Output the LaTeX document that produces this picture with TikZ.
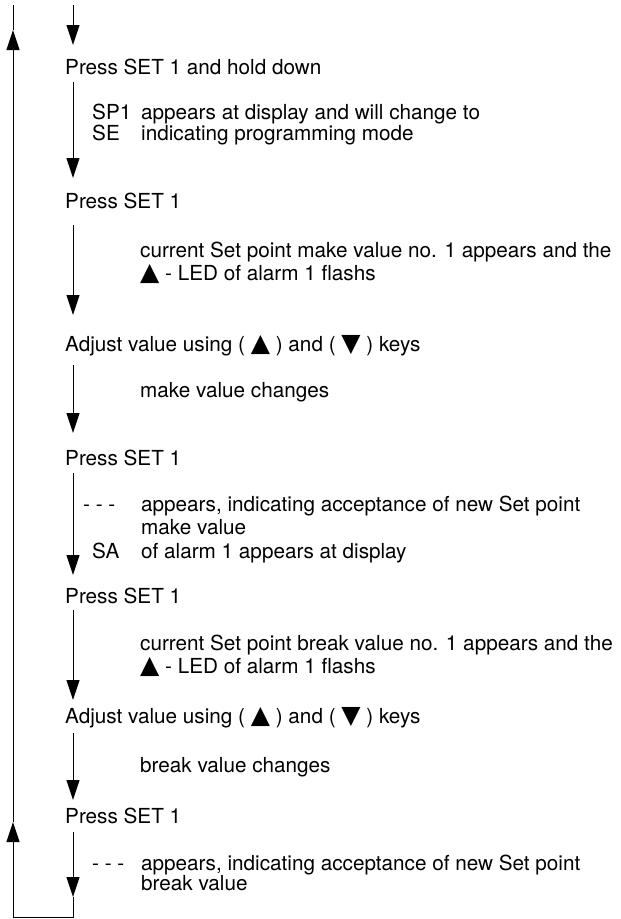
\documentclass[tikz,border=0pt]{standalone}
\usepackage{fontspec}
\setmainfont{TeX Gyre Heros}
\newfontfamily\symfont{DejaVu Sans}
\usetikzlibrary{arrows.meta}
\newcommand{\up}{{\symfont\fontsize{25}{24}\selectfont ▲}}
\newcommand{\dn}{{\symfont\fontsize{25}{24}\selectfont ▼}}
\begin{document}
\begin{tikzpicture}[x=1pt,y=-1pt,
  txt/.style={anchor=base west,inner sep=0pt,font=\fontsize{20.7}{24}\selectfont},
  flow/.style={line width=1pt,-{Triangle[length=20pt,width=13pt]}},
  plain/.style={line width=1pt}]
\useasboundingbox (0,0) rectangle (621,919);
% coordinates of the connectors
\coordinate (a0) at (73,5);   \coordinate (a1) at (73,45);
\coordinate (a2) at (73,82);  \coordinate (a3) at (73,178);
\coordinate (a4) at (73,225); \coordinate (a5) at (73,315);
\coordinate (a6) at (73,365); \coordinate (a7) at (73,433);
\coordinate (a8) at (73,473); \coordinate (a9) at (73,575);
\coordinate (a10) at (73,610); \coordinate (a11) at (73,700);
\coordinate (a12) at (73,733); \coordinate (a13) at (73,800);
\coordinate (a14) at (73,832); \coordinate (a15) at (73,897);
\coordinate (b0) at (73,917); \coordinate (b1) at (13,917);
\coordinate (u1) at (13,822); \coordinate (u2) at (13,30);
\coordinate (top) at (13,5);
% texts
\node[txt] (s1) at (65,74) {Press SET 1 and hold down};
\node[txt] (c1a) at (92,119) {SP1};
\node[txt] (d1a) at (141,119) {appears at display and will change to};
\node[txt] (c1b) at (92,140) {SE};
\node[txt] (d1b) at (141,140) {indicating programming mode};
\node[txt] (s2) at (65,208) {Press SET 1};
\node[txt] (d2a) at (140,257) {current Set point make value no. 1 appears and the};
\node[txt] (d2b) at (140,280) {\up\ - LED of alarm 1 flashs};
\node[txt] (s3) at (65,351) {Adjust value using ( \up\ ) and ( \dn\ ) keys};
\node[txt] (d3) at (140,397) {make value changes};
\node[txt] (s4) at (65,465) {Press SET 1};
\node[txt] (c4a) at (83,511) {- - -};
\node[txt] (d4a) at (141,511) {appears, indicating acceptance of new Set point};
\node[txt] (d4b) at (141,534) {make value};
\node[txt] (c4c) at (92,558) {SA};
\node[txt] (d4c) at (141,558) {of alarm 1 appears at display};
\node[txt] (s5) at (65,603) {Press SET 1};
\node[txt] (d5a) at (140,650) {current Set point break value no. 1 appears and the};
\node[txt] (d5b) at (140,673) {\up\ - LED of alarm 1 flashs};
\node[txt] (s6) at (65,723) {Adjust value using ( \up\ ) and ( \dn\ ) keys};
\node[txt] (d6) at (140,772) {break value changes};
\node[txt] (s7) at (65,823) {Press SET 1};
\node[txt] (c7a) at (92,870) {- - -};
\node[txt] (d7a) at (141,870) {appears, indicating acceptance of new Set point};
\node[txt] (d7b) at (141,890) {break value};
% connectors
\draw[flow] (a0) -- (a1);
\draw[flow] (a2) -- (a3);
\draw[flow] (a4) -- (a5);
\draw[flow] (a6) -- (a7);
\draw[flow] (a8) -- (a9);
\draw[flow] (a10) -- (a11);
\draw[flow] (a12) -- (a13);
\draw[flow] (a14) -- (a15);
\draw[plain] (a15) -- (b0) -- (b1);
\draw[flow] (b1) -- (u1);
\draw[flow] (u1) -- (u2);
\draw[plain] (u2) -- (top);
\end{tikzpicture}
\end{document}
